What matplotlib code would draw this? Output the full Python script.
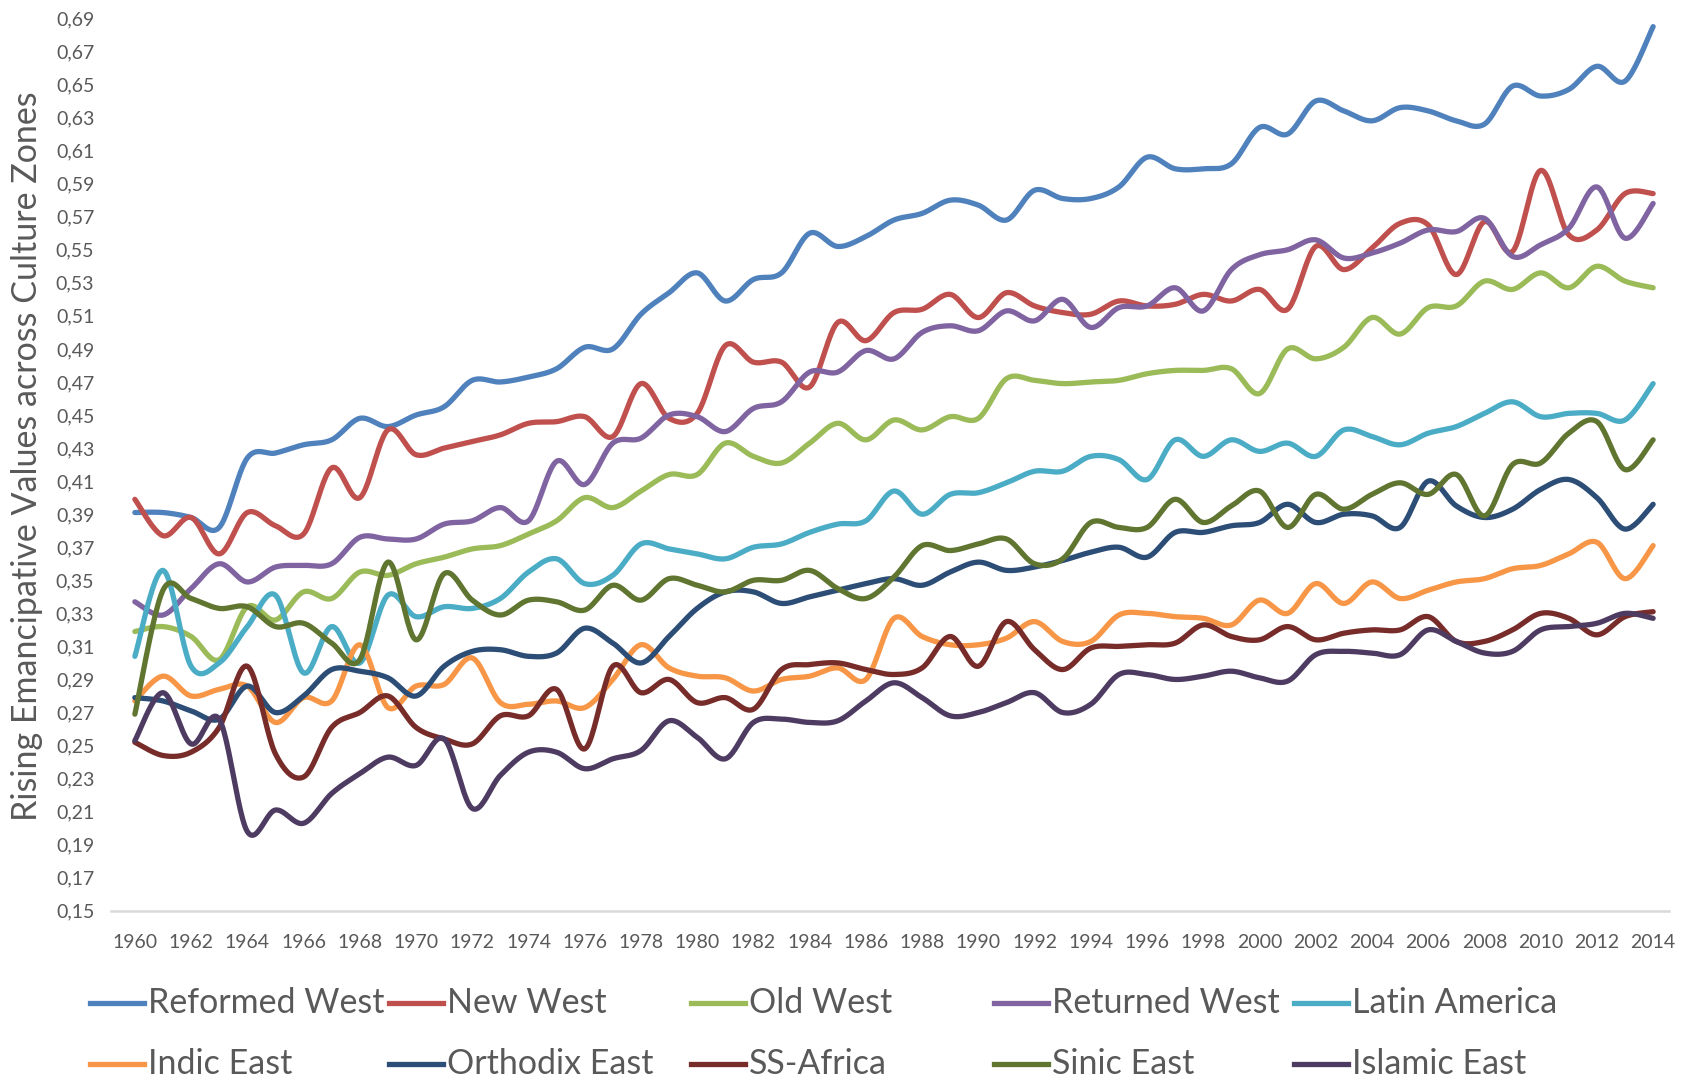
import numpy as np
import matplotlib
matplotlib.use('Agg')
import matplotlib.pyplot as plt
from matplotlib.lines import Line2D

years = list(range(1960, 2015))

reformed_west = [0.391, 0.391, 0.388, 0.382, 0.424, 0.427, 0.432, 0.435, 0.448, 0.443,
                 0.450, 0.455, 0.471, 0.470, 0.473, 0.478, 0.491, 0.490, 0.511, 0.524,
                 0.536, 0.519, 0.532, 0.536, 0.560, 0.552, 0.558, 0.568, 0.572, 0.580,
                 0.577, 0.568, 0.586, 0.581, 0.581, 0.588, 0.606, 0.599, 0.599, 0.602,
                 0.624, 0.620, 0.640, 0.634, 0.628, 0.636, 0.634, 0.628, 0.626, 0.649,
                 0.643, 0.647, 0.661, 0.652, 0.685]
new_west = [0.399, 0.377, 0.388, 0.366, 0.391, 0.383, 0.378, 0.418, 0.400, 0.441,
            0.426, 0.430, 0.434, 0.438, 0.445, 0.446, 0.449, 0.437, 0.469, 0.448,
            0.451, 0.492, 0.482, 0.482, 0.467, 0.506, 0.495, 0.512, 0.514, 0.523,
            0.509, 0.524, 0.516, 0.512, 0.511, 0.519, 0.516, 0.517, 0.523, 0.519,
            0.526, 0.514, 0.552, 0.538, 0.551, 0.566, 0.565, 0.535, 0.567, 0.549,
            0.598, 0.559, 0.562, 0.584, 0.584]
old_west = [0.319, 0.322, 0.316, 0.302, 0.334, 0.326, 0.343, 0.339, 0.355, 0.353,
            0.360, 0.364, 0.369, 0.371, 0.378, 0.386, 0.400, 0.394, 0.404, 0.414,
            0.414, 0.433, 0.425, 0.421, 0.433, 0.445, 0.435, 0.447, 0.441, 0.449,
            0.448, 0.472, 0.471, 0.469, 0.470, 0.471, 0.475, 0.477, 0.477, 0.478,
            0.463, 0.490, 0.484, 0.491, 0.509, 0.499, 0.515, 0.516, 0.531, 0.526,
            0.536, 0.527, 0.540, 0.531, 0.527]
returned_west = [0.337, 0.329, 0.345, 0.360, 0.349, 0.358, 0.359, 0.360, 0.376, 0.375,
                 0.375, 0.384, 0.386, 0.394, 0.386, 0.422, 0.408, 0.433, 0.436, 0.450,
                 0.449, 0.440, 0.454, 0.458, 0.476, 0.476, 0.489, 0.484, 0.500, 0.504,
                 0.501, 0.513, 0.507, 0.520, 0.503, 0.515, 0.516, 0.527, 0.513, 0.538,
                 0.547, 0.550, 0.556, 0.545, 0.548, 0.554, 0.562, 0.561, 0.569, 0.546,
                 0.553, 0.563, 0.588, 0.557, 0.578]
latin_america = [0.304, 0.356, 0.298, 0.300, 0.322, 0.341, 0.294, 0.322, 0.300, 0.341,
                 0.328, 0.334, 0.333, 0.339, 0.355, 0.363, 0.348, 0.353, 0.372, 0.369,
                 0.366, 0.363, 0.370, 0.372, 0.379, 0.384, 0.386, 0.404, 0.390, 0.402,
                 0.403, 0.409, 0.416, 0.416, 0.425, 0.423, 0.411, 0.435, 0.425, 0.435,
                 0.428, 0.433, 0.425, 0.441, 0.437, 0.432, 0.439, 0.443, 0.451, 0.458,
                 0.449, 0.451, 0.451, 0.447, 0.469]
indic_east = [0.277, 0.292, 0.280, 0.284, 0.286, 0.264, 0.279, 0.277, 0.311, 0.273,
              0.286, 0.287, 0.303, 0.276, 0.275, 0.277, 0.273, 0.290, 0.311, 0.297,
              0.292, 0.291, 0.283, 0.290, 0.292, 0.297, 0.290, 0.327, 0.316, 0.311,
              0.311, 0.315, 0.325, 0.313, 0.313, 0.329, 0.330, 0.328, 0.327, 0.323,
              0.338, 0.330, 0.348, 0.336, 0.349, 0.339, 0.344, 0.349, 0.351, 0.357,
              0.359, 0.366, 0.373, 0.351, 0.371]
orthodix_east = [0.279, 0.277, 0.271, 0.266, 0.286, 0.270, 0.280, 0.296, 0.295, 0.291,
                 0.280, 0.298, 0.307, 0.308, 0.304, 0.306, 0.321, 0.312, 0.300, 0.316,
                 0.333, 0.343, 0.343, 0.336, 0.340, 0.344, 0.348, 0.351, 0.347, 0.355,
                 0.361, 0.356, 0.358, 0.362, 0.367, 0.370, 0.364, 0.379, 0.379, 0.383,
                 0.385, 0.396, 0.385, 0.390, 0.389, 0.382, 0.410, 0.395, 0.388, 0.393,
                 0.405, 0.411, 0.400, 0.381, 0.396]
ss_africa = [0.252, 0.244, 0.246, 0.261, 0.298, 0.245, 0.231, 0.261, 0.270, 0.280,
             0.261, 0.254, 0.251, 0.268, 0.268, 0.284, 0.248, 0.298, 0.282, 0.290,
             0.276, 0.279, 0.272, 0.296, 0.299, 0.300, 0.296, 0.293, 0.297, 0.316,
             0.298, 0.325, 0.308, 0.296, 0.309, 0.310, 0.311, 0.312, 0.323, 0.316,
             0.314, 0.322, 0.314, 0.318, 0.320, 0.320, 0.328, 0.313, 0.313, 0.320,
             0.330, 0.327, 0.317, 0.328, 0.331]
sinic_east = [0.269, 0.344, 0.339, 0.333, 0.334, 0.322, 0.324, 0.312, 0.302, 0.361,
              0.314, 0.354, 0.338, 0.329, 0.338, 0.337, 0.332, 0.347, 0.338, 0.351,
              0.347, 0.343, 0.350, 0.350, 0.356, 0.345, 0.339, 0.352, 0.371, 0.368,
              0.372, 0.375, 0.360, 0.363, 0.385, 0.382, 0.382, 0.399, 0.385, 0.395,
              0.404, 0.382, 0.402, 0.393, 0.402, 0.409, 0.402, 0.414, 0.389, 0.420,
              0.421, 0.439, 0.446, 0.417, 0.435]
islamic_east = [0.253, 0.282, 0.251, 0.266, 0.198, 0.211, 0.203, 0.221, 0.233, 0.243,
                0.238, 0.254, 0.212, 0.232, 0.246, 0.246, 0.236, 0.242, 0.247, 0.265,
                0.255, 0.242, 0.264, 0.266, 0.264, 0.265, 0.277, 0.288, 0.279, 0.268,
                0.270, 0.276, 0.282, 0.270, 0.275, 0.293, 0.293, 0.290, 0.292, 0.295,
                0.291, 0.289, 0.305, 0.307, 0.306, 0.305, 0.320, 0.313, 0.306, 0.307,
                0.320, 0.322, 0.324, 0.330, 0.327]

labels = ['Reformed West', 'New West', 'Old West', 'Returned West', 'Latin America',
          'Indic East', 'Orthodix East', 'SS-Africa', 'Sinic East', 'Islamic East']
series = [reformed_west, new_west, old_west, returned_west, latin_america,
          indic_east, orthodix_east, ss_africa, sinic_east, islamic_east]
colors = ['#4F81BD', '#C0504D', '#9BBB59', '#8064A2', '#4BACC6',
          '#F79646', '#2C4D75', '#772C2A', '#5F7530', '#4D3B62']


def smooth(x, y, n=24):
    # Excel style smoothed line: cubic bezier through the points
    x = np.asarray(x, float)
    y = np.asarray(y, float)
    t = np.linspace(0, 1, n, endpoint=False)[:, None]
    xs, ys = [], []
    for i in range(len(x) - 1):
        p0 = np.array([x[i], y[i]])
        p3 = np.array([x[i + 1], y[i + 1]])
        pp = np.array([x[i - 1], y[i - 1]]) if i > 0 else p0
        pn = np.array([x[i + 2], y[i + 2]]) if i + 2 < len(x) else p3
        c1 = p0 + (p3 - pp) / 6
        c2 = p3 - (pn - p0) / 6
        pts = ((1 - t) ** 3) * p0 + 3 * ((1 - t) ** 2) * t * c1 + 3 * (1 - t) * t ** 2 * c2 + t ** 3 * p3
        xs.extend(pts[:, 0])
        ys.extend(pts[:, 1])
    xs.append(x[-1])
    ys.append(y[-1])
    return xs, ys


plt.rcParams['font.family'] = ['Lato', 'DejaVu Sans']
gray = '#595959'

fig = plt.figure(figsize=(16.94, 10.81), dpi=100)
ax = fig.add_axes([0.0655, 0.1574, 0.9195, 0.8256])

for vals, c in zip(series, colors):
    sx, sy = smooth(years, vals)
    ax.plot(sx, sy, color=c, lw=3.8, solid_capstyle='round')

ax.set_xlim(1959.15, 2014.55)
ax.set_ylim(0.15, 0.69)
yt = np.arange(0.15, 0.695, 0.02)
ax.set_yticks(yt)
ax.set_yticklabels([('%.2f' % v).replace('.', ',') for v in yt])
ax.set_xticks(years[::2])
ax.set_xticklabels([str(y) for y in years[::2]])
ax.tick_params(axis='both', length=0, labelsize=14, colors=gray)
ax.tick_params(axis='y', pad=12)
ax.tick_params(axis='x', pad=17)

for s in ['top', 'right', 'left']:
    ax.spines[s].set_visible(False)
ax.spines['bottom'].set_color('#D9D9D9')
ax.spines['bottom'].set_linewidth(1.8)

fig.text(0.016, 0.578, 'Rising Emancipative Values across Culture Zones', rotation=90,
         ha='center', va='center', fontsize=24.5, color=gray)

# legend, two rows of five
col_x = [90, 389, 691, 994, 1294]
row_y = [1003, 1064]
W, H = 1694.0, 1081.0
for k, (lab, c) in enumerate(zip(labels, colors)):
    r, cc = divmod(k, 5)
    x0 = col_x[cc]
    yy = 1 - row_y[r] / H
    fig.add_artist(Line2D([x0 / W, (x0 + 54) / W], [yy, yy], transform=fig.transFigure,
                          color=c, lw=3.8))
    fig.text((x0 + 58) / W, yy, lab, ha='left', va='center', fontsize=24.5, color=gray)

fig.savefig('out.png', dpi=100)
